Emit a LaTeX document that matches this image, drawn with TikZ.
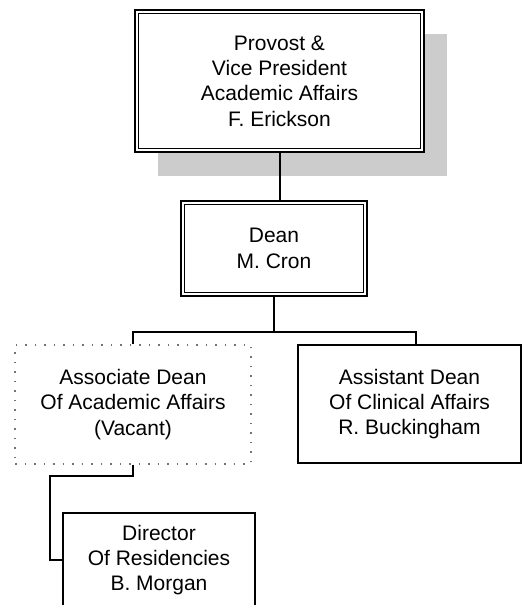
\documentclass[tikz,border=0pt]{standalone}
\usepackage{fontspec}
\setmainfont{Liberation Sans}
\usetikzlibrary{shadows}

\tikzset{
  post/.style={draw, line width=2pt, fill=white, align=center, inner sep=0pt,
    font=\fontsize{21}{25.3}\selectfont},
  vacant/.style={post, draw=black!55, line width=1.5pt, dash pattern=on 1.5pt off 8pt},
  link/.style={line width=2pt},
  rim/.style={line width=1pt}
}

\begin{document}
\begin{tikzpicture}[x=1pt,y=1pt]
\useasboundingbox (0,0) rectangle (532,605);
\clip (0,0) rectangle (532,605);

\node[post, minimum width=289, minimum height=142,
  drop shadow={shadow xshift=23pt, shadow yshift=-24pt, fill=black!20, opacity=1}]
  (prov) at (279.5,524) {Provost \&\\Vice President\\Academic Affairs\\F. Erickson};
\draw[rim] ([shift={(4.5,-4.5)}]prov.north west) rectangle ([shift={(-4.5,4.5)}]prov.south east);

\node[post, minimum width=186, minimum height=95] (dean) at (274,356.5) {Dean\\M. Cron};
\draw[rim] ([shift={(4.5,-4.5)}]dean.north west) rectangle ([shift={(-4.5,4.5)}]dean.south east);

\node[vacant, minimum width=236, minimum height=119] (assoc) at (133,200.5)
  {Associate Dean\\Of Academic Affairs\\(Vacant)};
\node[post, minimum width=223, minimum height=118] (asst) at (409.5,201)
  {Assistant Dean\\Of Clinical Affairs\\R. Buckingham};
\node[post, minimum width=192, minimum height=94] (dir) at (159,45)
  {Director\\Of Residencies\\B. Morgan};

\coordinate (bus) at (0,273);
\draw[link] (prov.south) -- (prov.south |- dean.north);
\draw[link] (dean.south) -- (dean.south |- bus);
\draw[link] (assoc.north) |- ([xshift=6.5]asst.north |- bus) -- ([xshift=6.5]asst.north);
\draw[link] (assoc.south) -- ++(0,-11) -| ([xshift=-12]dir.west) -- (dir.west);
\end{tikzpicture}
\end{document}
